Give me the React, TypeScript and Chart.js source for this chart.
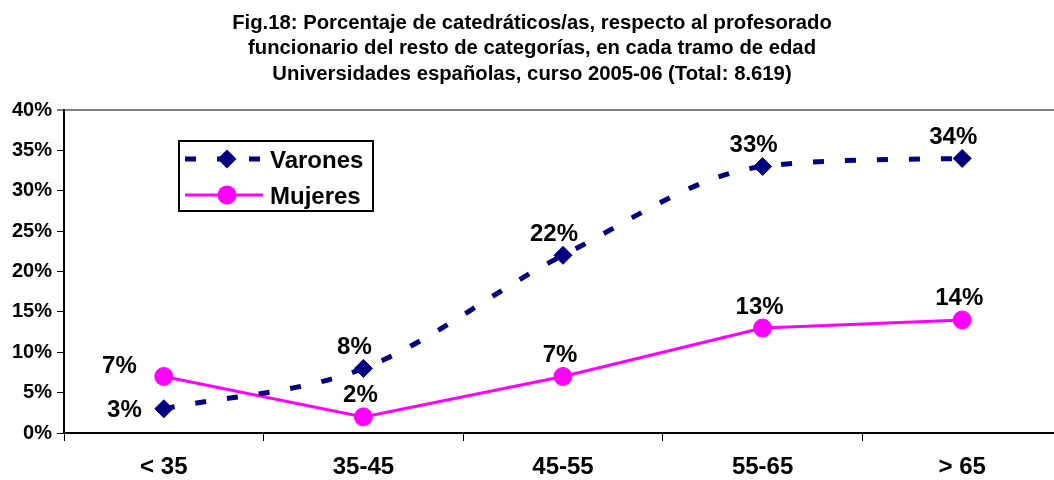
import React, { useEffect, useRef } from "react";
import { Chart, registerables } from "chart.js";

Chart.register(...registerables);

const TITLE_LINES = [
  "Fig.18: Porcentaje de catedráticos/as, respecto al profesorado",
  "funcionario del resto de categorías, en cada tramo de edad",
  "Universidades españolas, curso 2005-06 (Total: 8.619)",
];
const CATEGORIES = ["< 35", "35-45", "45-55", "55-65", "> 65"];
const SERIES_NAMES = ["Varones", "Mujeres"];
const VARONES = [3, 8, 22, 33, 34];
const MUJERES = [7, 2, 7, 13, 14];
const Y_MIN = 0;
const Y_MAX = 40;
const Y_STEP = 5;

const FONT = '"Liberation Sans", Arial, Helvetica, sans-serif';
const NAVY = "#000080";
const MAGENTA = "#FF00FF";
const CANVAS_W = 1072;
const CANVAS_H = 480;

const titlePlugin = {
  id: "customTitle",
  afterDraw(chart: any) {
    const ctx = chart.ctx;
    ctx.save();
    ctx.font = `bold 20.3px ${FONT}`;
    ctx.fillStyle = "#000";
    ctx.textAlign = "center";
    ctx.textBaseline = "alphabetic";
    TITLE_LINES.forEach((line, i) => {
      ctx.fillText(line, 532, 28.5 + i * 25.9);
    });
    ctx.restore();
  },
};

const dataLabelPlugin = {
  id: "dataLabels",
  afterDatasetsDraw(chart: any) {
    const ctx = chart.ctx;
    ctx.save();
    ctx.font = `bold 24px ${FONT}`;
    ctx.fillStyle = "#000";
    ctx.textBaseline = "alphabetic";
    chart.data.datasets.forEach((ds: any, di: number) => {
      const meta = chart.getDatasetMeta(di);
      meta.data.forEach((pt: any, i: number) => {
        const txt = `${ds.data[i]}%`;
        if (i === 0) {
          ctx.textAlign = "right";
          if (di === 0) ctx.fillText(txt, pt.x - 22, pt.y + 8.5);
          else ctx.fillText(txt, pt.x - 27, pt.y - 3.5);
        } else {
          ctx.textAlign = "center";
          const dx = di === 0 ? -9 : -3;
          ctx.fillText(txt, pt.x + dx, pt.y - 14.5);
        }
      });
    });
    ctx.restore();
  },
};

const legendPlugin = {
  id: "boxLegend",
  afterDraw(chart: any) {
    const ctx = chart.ctx;
    ctx.save();
    const bx = 179, by = 141, bw = 194, bh = 70;
    ctx.fillStyle = "#fff";
    ctx.fillRect(bx, by, bw, bh);
    ctx.strokeStyle = "#000";
    ctx.lineWidth = 2;
    ctx.strokeRect(bx, by, bw, bh);
    const rows = [159, 195];
    chart.data.datasets.forEach((ds: any, di: number) => {
      const y = rows[di];
      ctx.save();
      ctx.strokeStyle = ds.borderColor;
      ctx.lineWidth = ds.borderWidth;
      ctx.setLineDash(ds.borderDash || []);
      ctx.beginPath();
      ctx.moveTo(185, y);
      ctx.lineTo(263, y);
      ctx.stroke();
      ctx.restore();
      ctx.fillStyle = ds.pointBackgroundColor;
      const r = 9.5;
      ctx.beginPath();
      if (ds.pointStyle === "rectRot") {
        ctx.moveTo(227, y - r);
        ctx.lineTo(227 + r, y);
        ctx.lineTo(227, y + r);
        ctx.lineTo(227 - r, y);
        ctx.closePath();
      } else {
        ctx.arc(227, y, r, 0, Math.PI * 2);
      }
      ctx.fill();
      ctx.fillStyle = "#000";
      ctx.font = `bold 24px ${FONT}`;
      ctx.textAlign = "left";
      ctx.textBaseline = "alphabetic";
      ctx.fillText(ds.label, 270, y + 8.5);
    });
    ctx.restore();
  },
};

export default function App() {
  const canvasRef = useRef<HTMLCanvasElement | null>(null);

  useEffect(() => {
    document.body.style.margin = "0";
    document.body.style.overflow = "hidden";
    const canvas = canvasRef.current;
    if (!canvas) return;
    const chart = new Chart(canvas, {
      type: "line",
      data: {
        labels: CATEGORIES,
        datasets: [
          {
            label: SERIES_NAMES[0],
            data: VARONES,
            borderColor: NAVY,
            backgroundColor: NAVY,
            borderWidth: 5,
            borderDash: [11, 21],
            cubicInterpolationMode: "monotone",
            pointStyle: "rectRot",
            pointRadius: 9,
            pointBorderWidth: 1,
            pointBackgroundColor: NAVY,
            pointBorderColor: NAVY,
            fill: false,
          },
          {
            label: SERIES_NAMES[1],
            data: MUJERES,
            borderColor: MAGENTA,
            backgroundColor: MAGENTA,
            borderWidth: 3,
            tension: 0,
            pointStyle: "circle",
            pointRadius: 9,
            pointBorderWidth: 1,
            pointBackgroundColor: MAGENTA,
            pointBorderColor: MAGENTA,
            fill: false,
          },
        ],
      },
      options: {
        responsive: false,
        animation: false,
        layout: { padding: { top: 110, left: 0, right: 0, bottom: 0 } },
        plugins: {
          legend: { display: false },
          title: { display: false },
          tooltip: { enabled: false },
        },
        scales: {
          x: {
            type: "category",
            offset: true,
            afterFit(scale: any) {
              scale.height = 47;
            },
            border: { display: true, color: "#000", width: 2 },
            grid: {
              offset: true,
              drawOnChartArea: false,
              drawTicks: true,
              tickLength: 8,
              color: "#000",
              lineWidth: 1,
            },
            ticks: {
              color: "#000",
              padding: 12,
              maxRotation: 0,
              autoSkip: false,
              font: { family: FONT, size: 24, weight: "bold" },
            },
          },
          y: {
            min: Y_MIN,
            max: Y_MAX,
            afterFit(scale: any) {
              scale.width = 64;
            },
            border: { display: true, color: "#000", width: 2 },
            grid: {
              drawOnChartArea: true,
              drawTicks: true,
              tickLength: 7,
              color: (c: any) => (c.tick && c.tick.value === Y_MAX ? "#808080" : "rgba(0,0,0,0)"),
              lineWidth: (c: any) => (c.tick && c.tick.value === Y_MAX ? 2 : 1),
              tickColor: "#000",
              tickWidth: 1,
            },
            ticks: {
              stepSize: Y_STEP,
              color: "#000",
              padding: 5,
              font: { family: FONT, size: 20, weight: "bold" },
              callback: (v: any) => `${v}%`,
            },
          },
        },
      },
      plugins: [dataLabelPlugin, legendPlugin, titlePlugin],
    } as any);
    return () => chart.destroy();
  }, []);

  return (
    <div style={{ width: CANVAS_W, height: CANVAS_H, position: "relative" }}>
      <canvas
        ref={canvasRef}
        width={CANVAS_W}
        height={CANVAS_H}
        style={{ display: "block", width: CANVAS_W, height: CANVAS_H }}
      />
    </div>
  );
}
